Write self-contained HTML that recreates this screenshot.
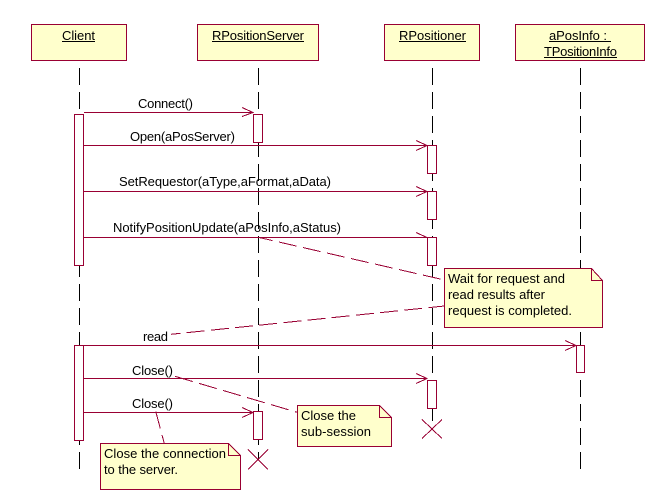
<!DOCTYPE html>
<html>
<head>
<meta charset="utf-8">
<style>
html,body{margin:0;padding:0;background:#fff;width:654px;height:504px;overflow:hidden}
svg{display:block}
text{font-family:"Liberation Sans",Arial,sans-serif;font-size:13px;fill:#000}
.b{fill:#FFFFCC;stroke:#990033;stroke-width:1}
.a{fill:#fff;stroke:#990033;stroke-width:1}
.m{stroke:#990033;stroke-width:1;fill:none}
.l{stroke:#000;stroke-width:1;stroke-dasharray:17 7;fill:none}
.d{stroke:#990033;stroke-width:1;fill:none}
.u{stroke:#000;stroke-width:1}
</style>
</head>
<body>
<svg width="654" height="504" viewBox="0 0 654 504" xmlns="http://www.w3.org/2000/svg" shape-rendering="crispEdges">
<rect width="654" height="504" fill="#fff"/>

<!-- lifelines -->
<line class="l" x1="79.5" y1="68" x2="79.5" y2="469"/>
<line class="l" x1="258.5" y1="68" x2="258.5" y2="459"/>
<line class="l" x1="432.5" y1="68" x2="432.5" y2="429"/>
<line class="l" x1="580.5" y1="68" x2="580.5" y2="469"/>

<!-- object boxes -->
<rect class="b" x="31.5" y="24.5" width="95" height="36"/>
<rect class="b" x="197.5" y="24.5" width="121" height="36"/>
<rect class="b" x="384.5" y="24.5" width="95" height="36"/>
<rect class="b" x="515.5" y="24.5" width="129" height="36"/>
<text x="62" y="40" textLength="33" lengthAdjust="spacing">Client</text>
<line class="u" x1="62" y1="41.5" x2="95" y2="41.5"/>
<text x="212" y="40" textLength="92" lengthAdjust="spacing">RPositionServer</text>
<line class="u" x1="212" y1="41.5" x2="304" y2="41.5"/>
<text x="399" y="40" textLength="67" lengthAdjust="spacing">RPositioner</text>
<line class="u" x1="399" y1="41.5" x2="466" y2="41.5"/>
<text x="549" y="40" textLength="58" lengthAdjust="spacing">aPosInfo :</text>
<line class="u" x1="549" y1="41.5" x2="611" y2="41.5"/>
<text x="544" y="56" textLength="73" lengthAdjust="spacing">TPositionInfo</text>
<line class="u" x1="544" y1="57.5" x2="617" y2="57.5"/>

<!-- activations -->
<rect class="a" x="74.5" y="114.5" width="9" height="151"/>
<rect class="a" x="253.5" y="114.5" width="9" height="28"/>
<rect class="a" x="427.5" y="145.5" width="9" height="28"/>
<rect class="a" x="427.5" y="191.5" width="9" height="28"/>
<rect class="a" x="427.5" y="237.5" width="9" height="28"/>
<rect class="a" x="74.5" y="345.5" width="9" height="95"/>
<rect class="a" x="576.5" y="345.5" width="8" height="27"/>
<rect class="a" x="427.5" y="380.5" width="9" height="28"/>
<rect class="a" x="253.5" y="411.5" width="9" height="28"/>

<!-- messages -->
<line class="m" x1="84" y1="112.5" x2="253" y2="112.5"/>
<path class="m" d="M242 107.5L253 112.5L242 116.5"/>
<line class="m" x1="83" y1="145.5" x2="427" y2="145.5"/>
<path class="m" d="M416 140.5L427 145.5L416 150.5"/>
<line class="m" x1="83" y1="191.5" x2="427" y2="191.5"/>
<path class="m" d="M416 186.5L427 191.5L416 196.5"/>
<line class="m" x1="83" y1="237.5" x2="427" y2="237.5"/>
<path class="m" d="M416 232.5L427 237.5"/>
<line class="m" x1="83" y1="345.5" x2="576" y2="345.5"/>
<path class="m" d="M565 340.5L576 345.5L565 350.5"/>
<line class="m" x1="83" y1="378.5" x2="427" y2="378.5"/>
<path class="m" d="M416 373.5L427 378.5L416 383.5"/>
<line class="m" x1="83" y1="412.5" x2="253" y2="412.5"/>
<path class="m" d="M242 407.5L253 412.5L242 417.5"/>

<text x="138" y="108" textLength="55" lengthAdjust="spacing">Connect()</text>
<text x="130" y="141" textLength="105" lengthAdjust="spacing">Open(aPosServer)</text>
<text x="119" y="186" textLength="212" lengthAdjust="spacing">SetRequestor(aType,aFormat,aData)</text>
<text x="113" y="232" textLength="228" lengthAdjust="spacing">NotifyPositionUpdate(aPosInfo,aStatus)</text>
<text x="143" y="341" textLength="25" lengthAdjust="spacing">read</text>
<text x="132" y="375" textLength="41" lengthAdjust="spacing">Close()</text>
<text x="132" y="408" textLength="41" lengthAdjust="spacing">Close()</text>

<!-- dashed note connectors -->
<line class="d" x1="258.3" y1="237.3" x2="444.5" y2="280" stroke-dasharray="18 6.6" stroke-dashoffset="3.4"/>
<line class="d" x1="171" y1="334.3" x2="444.5" y2="306" stroke-dasharray="18 6.3" stroke-dashoffset="8.5"/>
<line class="d" x1="175" y1="376.3" x2="297.5" y2="412.4" stroke-dasharray="18.5 6.5"/>
<line class="d" x1="155.7" y1="411.3" x2="164.3" y2="443.5" stroke-dasharray="18 6.5"/>

<!-- destruction marks -->
<path class="m" d="M248 449.5L268 469.5M268 449.5L248 469.5"/>
<path class="m" d="M422 419.5L442 438.5M442 419.5L422 438.5"/>

<!-- notes -->
<path class="b" d="M444.5 268.5H591.5L602.5 280.5V327.5H444.5Z"/>
<path class="m" d="M591.5 268.5V280.5H602.5"/>
<text x="448" y="283" textLength="117" lengthAdjust="spacing">Wait for request and</text>
<text x="448" y="299" textLength="97" lengthAdjust="spacing">read results after</text>
<text x="448" y="315" textLength="124" lengthAdjust="spacing">request is completed.</text>

<path class="b" d="M297.5 405.5H379.5L391.5 417.5V446.5H297.5Z"/>
<path class="m" d="M379.5 405.5V417.5H391.5"/>
<text x="301" y="420" textLength="55" lengthAdjust="spacing">Close the</text>
<text x="301" y="436" textLength="70" lengthAdjust="spacing">sub-session</text>

<path class="b" d="M100.5 443.5H228.5L240.5 455.5V489.5H100.5Z"/>
<path class="m" d="M228.5 443.5V455.5H240.5"/>
<text x="104" y="458" textLength="122" lengthAdjust="spacing">Close the connection</text>
<text x="104" y="474" textLength="74" lengthAdjust="spacing">to the server.</text>
</svg>
</body>
</html>
